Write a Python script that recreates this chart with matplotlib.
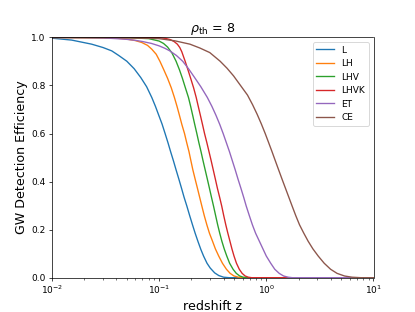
import numpy as np
import matplotlib
matplotlib.use("Agg")
import matplotlib.pyplot as plt

# detection efficiency vs redshift
z_L = [0.01, 0.0153, 0.0235, 0.03, 0.0362, 0.042, 0.05, 0.0585, 0.0675, 0.0765, 0.0855,
       0.0925, 0.0995, 0.1065, 0.1138, 0.121, 0.128, 0.136, 0.144, 0.153, 0.162, 0.171,
       0.1816, 0.193, 0.205, 0.217, 0.230, 0.245, 0.26, 0.28, 0.30, 0.33, 0.36, 0.40,
       0.45, 10.0]
eff_L = [0.997, 0.989, 0.972, 0.958, 0.944, 0.925, 0.901, 0.87, 0.833, 0.795, 0.75,
         0.713, 0.675, 0.64, 0.60, 0.562, 0.525, 0.487, 0.449, 0.41, 0.372, 0.335,
         0.298, 0.258, 0.22, 0.185, 0.152, 0.118, 0.09, 0.06, 0.04, 0.02, 0.009, 0.002,
         0.0, 0.0]

z_LH = [0.01, 0.03, 0.04, 0.05, 0.06, 0.0689, 0.078, 0.0855, 0.094, 0.102, 0.11, 0.12,
        0.13, 0.139, 0.147, 0.155, 0.163, 0.1727, 0.181, 0.19, 0.198, 0.2065, 0.217, 0.228,
        0.239, 0.2506, 0.264, 0.279, 0.295, 0.315, 0.335, 0.36, 0.39, 0.425, 0.46, 0.50,
        0.55, 0.6, 10.0]
eff_LH = [1.0, 0.999, 0.997, 0.993, 0.987, 0.979, 0.967, 0.951, 0.93, 0.90, 0.868, 0.83,
          0.79, 0.75, 0.713, 0.675, 0.638, 0.60, 0.562, 0.525, 0.487, 0.449, 0.41, 0.372,
          0.335, 0.298, 0.258, 0.22, 0.185, 0.152, 0.12, 0.09, 0.06, 0.035, 0.018, 0.007,
          0.002, 0.0, 0.0]

z_LHV = [0.01, 0.05, 0.08, 0.1, 0.11, 0.12, 0.132, 0.144, 0.155, 0.165, 0.176, 0.188,
         0.197, 0.206, 0.215, 0.225, 0.235, 0.246, 0.257, 0.269, 0.282, 0.295, 0.308,
         0.322, 0.337, 0.352, 0.368, 0.385, 0.405, 0.428, 0.455, 0.49, 0.525, 0.565, 0.61,
         0.66, 10.0]
eff_LHV = [1.0, 0.999, 0.995, 0.985, 0.975, 0.96, 0.935, 0.901, 0.865, 0.83, 0.79, 0.75,
           0.713, 0.675, 0.638, 0.60, 0.562, 0.525, 0.487, 0.449, 0.41, 0.372, 0.335,
           0.298, 0.258, 0.22, 0.185, 0.152, 0.12, 0.09, 0.06, 0.035, 0.018, 0.007, 0.002,
           0.0, 0.0]

z_LHVK = [0.01, 0.1, 0.115, 0.127, 0.138, 0.148, 0.156, 0.163, 0.169, 0.175, 0.186, 0.197,
          0.21, 0.222, 0.232, 0.243, 0.254, 0.2655, 0.279, 0.292, 0.306, 0.32, 0.335,
          0.35, 0.367, 0.384, 0.401, 0.419, 0.438, 0.458, 0.478, 0.5, 0.527, 0.56, 0.595,
          0.635, 0.68, 0.73, 10.0]
eff_LHVK = [1.0, 0.999, 0.996, 0.991, 0.983, 0.972, 0.958, 0.94, 0.92, 0.901, 0.865, 0.83,
            0.79, 0.75, 0.713, 0.675, 0.638, 0.60, 0.562, 0.525, 0.487, 0.449, 0.41,
            0.372, 0.335, 0.298, 0.258, 0.22, 0.185, 0.152, 0.12, 0.09, 0.06, 0.035,
            0.018, 0.007, 0.002, 0.0, 0.0]

z_ET = [0.01, 0.02, 0.03, 0.04, 0.05, 0.06, 0.07, 0.085, 0.1, 0.113, 0.126, 0.145, 0.166,
        0.188, 0.213, 0.245, 0.282, 0.311, 0.34, 0.368, 0.396, 0.424, 0.453, 0.482, 0.513,
        0.545, 0.58, 0.615, 0.650, 0.695, 0.742, 0.795, 0.861, 0.93, 1.0, 1.1, 1.2, 1.32,
        1.45, 1.6, 1.75, 10.0]
eff_ET = [1.0, 0.9995, 0.998, 0.995, 0.992, 0.988, 0.983, 0.975, 0.965, 0.955, 0.944,
          0.925, 0.901, 0.87, 0.835, 0.795, 0.75, 0.713, 0.675, 0.638, 0.60, 0.562, 0.525,
          0.487, 0.449, 0.41, 0.372, 0.335, 0.298, 0.258, 0.22, 0.185, 0.152, 0.12, 0.09,
          0.06, 0.035, 0.018, 0.007, 0.002, 0.0, 0.0]

z_CE = [0.01, 0.05, 0.1, 0.14, 0.194, 0.24, 0.297, 0.371, 0.43, 0.495, 0.575, 0.668, 0.745,
        0.822, 0.899, 0.977, 1.052, 1.13, 1.213, 1.303, 1.403, 1.51, 1.622, 1.742, 1.884,
        2.042, 2.239, 2.455, 2.72, 3.05, 3.47, 3.98, 4.57, 5.37, 6.3, 7.6, 10.0]
eff_CE = [1.0, 0.999, 0.995, 0.986, 0.972, 0.956, 0.937, 0.901, 0.872, 0.84, 0.80, 0.76,
          0.72, 0.68, 0.64, 0.60, 0.562, 0.525, 0.487, 0.449, 0.41, 0.372, 0.335, 0.298,
          0.258, 0.22, 0.185, 0.152, 0.12, 0.09, 0.06, 0.035, 0.018, 0.007, 0.002, 0.0, 0.0]

networks = ["L", "LH", "LHV", "LHVK", "ET", "CE"]
curves = [(z_L, eff_L), (z_LH, eff_LH), (z_LHV, eff_LHV),
          (z_LHVK, eff_LHVK), (z_ET, eff_ET), (z_CE, eff_CE)]

fig, ax = plt.subplots(figsize=(415 / 65, 312 / 65), dpi=65)

for name, (z, eff) in zip(networks, curves):
    ax.plot(z, eff, label=name, lw=1.5)

ax.set_xscale("log")
ax.set_xlim(1e-2, 1e1)
ax.set_ylim(0, 1)
ax.set_xlabel("redshift z", fontsize=14)
ax.set_ylabel("GW Detection Efficiency", fontsize=14)
ax.set_title(r"$\rho_{\rm th}$ = 8", fontsize=14)
ax.legend(loc="upper right")

fig.savefig("out.png", dpi=65)
